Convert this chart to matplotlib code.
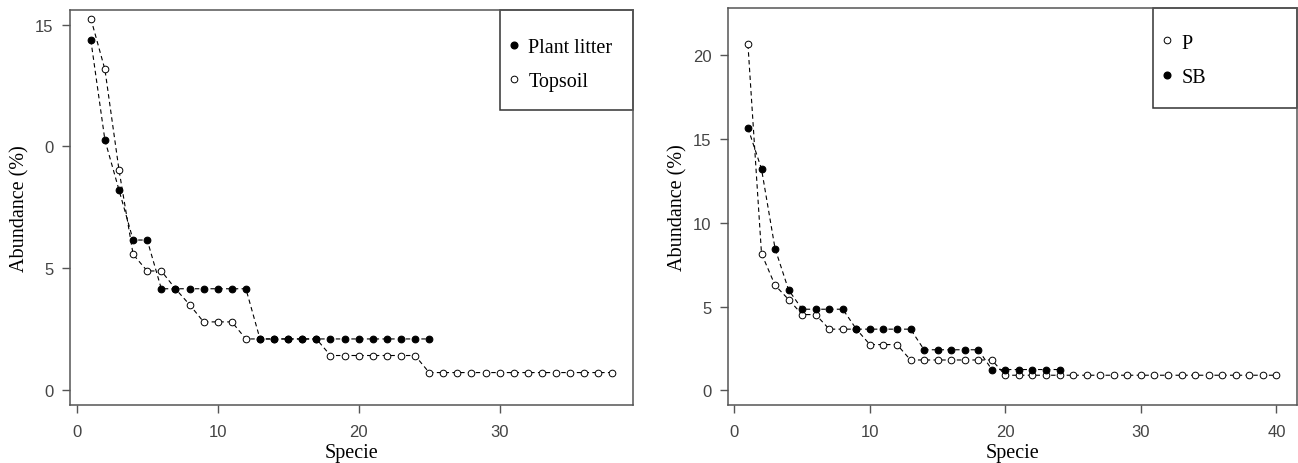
import matplotlib.pyplot as plt
from matplotlib.patches import Rectangle
from matplotlib.lines import Line2D

# left panel: plant litter vs topsoil
litter_x = list(range(1, 26))
litter = [14.37, 10.26, 8.21, 6.16, 6.16, 4.16, 4.16, 4.16, 4.16, 4.16, 4.16, 4.16,
          2.1, 2.1, 2.1, 2.1, 2.1, 2.1, 2.1, 2.1, 2.1, 2.1, 2.1, 2.1, 2.1]
topsoil_x = list(range(1, 39))
topsoil = [15.25, 13.16, 9.03, 5.57, 4.89, 4.89, 4.16, 3.51, 2.8, 2.8, 2.8, 2.1,
           2.1, 2.1, 2.1, 2.1, 2.1, 1.42, 1.42, 1.42, 1.42, 1.42, 1.42, 1.42,
           0.72, 0.72, 0.72, 0.72, 0.72, 0.72, 0.72, 0.72, 0.72, 0.72, 0.72, 0.72, 0.72, 0.72]
left_yticks = [0, 5, 10, 15]
left_ylabels = ['0', '5', '0', '15']

# right panel: P vs SB
p_x = list(range(1, 41))
p_vals = [20.65, 8.17, 6.28, 5.43, 4.53, 4.53, 3.66, 3.66, 3.66, 2.74, 2.74, 2.74,
          1.82, 1.82, 1.82, 1.82, 1.82, 1.82, 1.82] + [0.91] * 21
sb_x = list(range(1, 25))
sb_vals = [15.66, 13.22, 8.47, 6.0, 4.85, 4.85, 4.85, 4.85, 3.66, 3.66, 3.66, 3.66, 3.66,
           2.43, 2.43, 2.43, 2.43, 2.43, 1.25, 1.25, 1.25, 1.25, 1.25, 1.25]
right_yticks = [0, 5, 10, 15, 20]

serif = 'Liberation Serif'
sans = 'Liberation Sans'
frame_col = '#555555'
tick_col = '#444444'

fig = plt.figure(figsize=(12.98, 4.64), dpi=100)
ax1 = fig.add_axes([0.0539, 0.1256, 0.434, 0.8506])
ax2 = fig.add_axes([0.5611, 0.1256, 0.4379, 0.854])


def style(ax):
    for s in ax.spines.values():
        s.set_color(frame_col)
        s.set_linewidth(1.1)
    ax.tick_params(direction='out', length=6, width=1, color=frame_col,
                   labelcolor=tick_col, labelsize=12)
    ax.tick_params(axis='x', pad=8)
    ax.tick_params(axis='y', pad=6)
    for lab in ax.get_xticklabels() + ax.get_yticklabels():
        lab.set_fontfamily(sans)
    ax.set_xlabel('Specie', fontfamily=serif, fontsize=14.5, labelpad=3)
    ax.set_ylabel('Abundance (%)', fontfamily=serif, fontsize=14.5, labelpad=4)


def series(ax, x, y, filled):
    if filled:
        ax.plot(x, y, color='black', lw=0.8, ls=(0, (4, 3)), marker='o', ms=4.8,
                mfc='black', mec='black', mew=0.8, zorder=3)
    else:
        ax.plot(x, y, color='black', lw=0.8, ls=(0, (4, 3)), marker='o', ms=4.8,
                mfc='white', mec='black', mew=0.7, zorder=2)


series(ax1, topsoil_x, topsoil, False)
series(ax1, litter_x, litter, True)
ax1.set_xlim(-0.48, 39.48)
ax1.set_ylim(-0.6, 15.6)
ax1.set_xticks([0, 10, 20, 30])
ax1.set_yticks(left_yticks)
ax1.set_yticklabels(left_ylabels)
style(ax1)

series(ax2, p_x, p_vals, False)
series(ax2, sb_x, sb_vals, True)
ax2.set_xlim(-0.45, 41.5)
ax2.set_ylim(-0.85, 22.8)
ax2.set_xticks([0, 10, 20, 30, 40])
ax2.set_yticks(right_yticks)
style(ax2)

filled_h = Line2D([], [], ls='none', marker='o', ms=4.8, mfc='black', mec='black')
open_h = Line2D([], [], ls='none', marker='o', ms=4.8, mfc='white', mec='black', mew=0.7)


def legend_box(ax, x0, y0, handles, labels, lx, ly):
    ax.add_patch(Rectangle((x0, y0), 1 - x0, 1 - y0, transform=ax.transAxes,
                           fill=False, edgecolor='#333333', lw=1.1, clip_on=False))
    ax.legend(handles, labels, loc='upper left', bbox_to_anchor=(lx, ly),
              frameon=False, handlelength=0.6, handletextpad=0.4, labelspacing=0.75,
              borderpad=0, borderaxespad=0,
              prop={'family': serif, 'size': 14.5})


legend_box(ax1, 0.7625, 0.7474, [filled_h, open_h], ['Plant litter', 'Topsoil'], 0.778, 0.93)
legend_box(ax2, 0.7477, 0.7477, [open_h, filled_h], ['P', 'SB'], 0.762, 0.937)

fig.savefig('out.png', dpi=100)
